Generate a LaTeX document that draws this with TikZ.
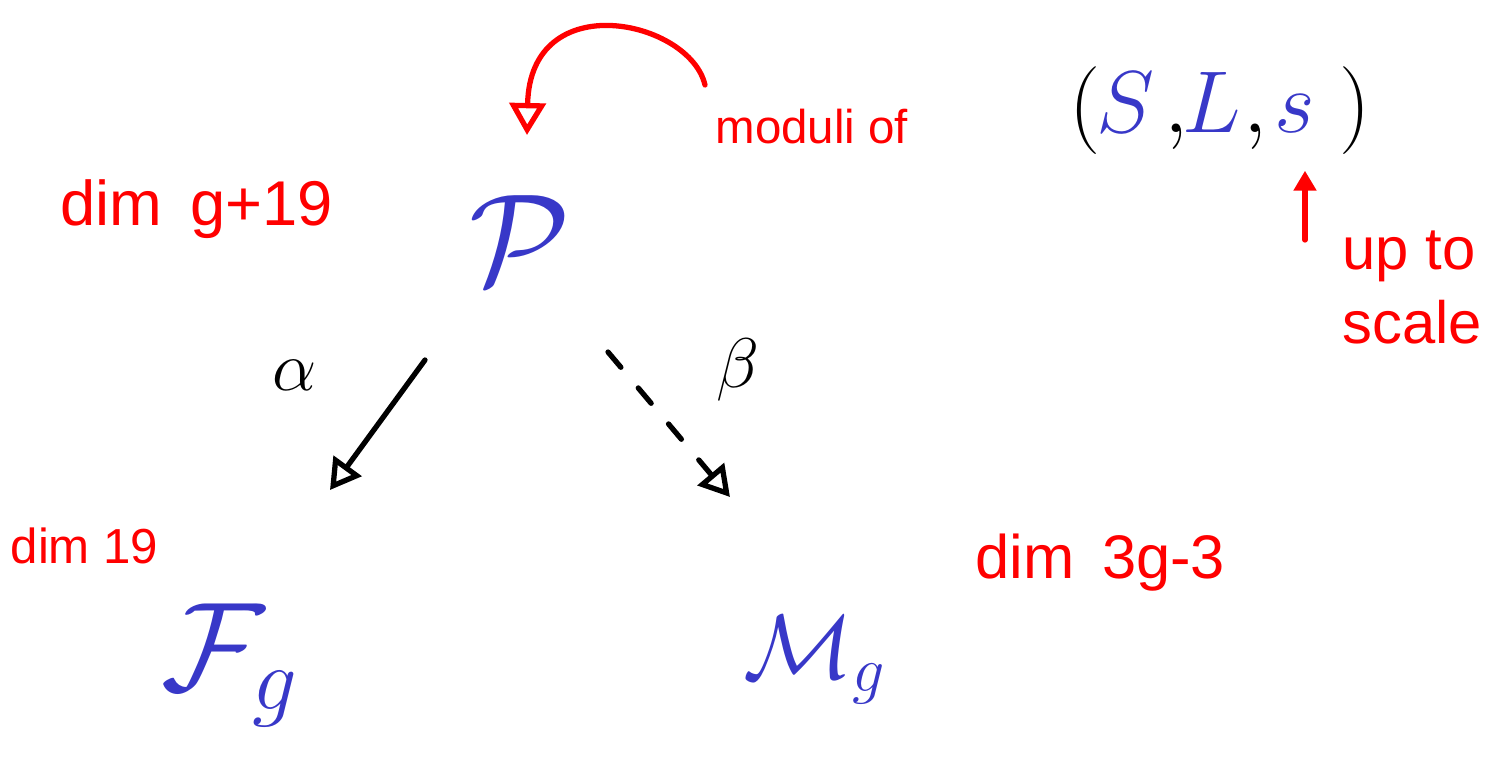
\RequirePackage{fix-cm}
\documentclass[tikz,border=0pt]{standalone}
\usepackage{amsmath}
\usepackage{fontspec}
\setsansfont{Liberation Sans}
\usepackage{tikz}
\usetikzlibrary{arrows.meta}

\begin{document}
\begin{tikzpicture}[line cap=round, line join=round,
  ink/.style={line width=1.5pt},
  note/.style={text=red, font=\sffamily\fontsize{18}{21}\selectfont, anchor=base west, inner sep=0pt},
  tup/.style={font=\fontsize{25}{28}\selectfont, anchor=base, inner sep=0pt}]

\definecolor{inkblue}{HTML}{3838C8}

\useasboundingbox (0,0) rectangle (14.97,-7.59);

% spaces
\node[inkblue, font=\fontsize{37}{41}\selectfont] (P) at (5.2,-2.4) {$\mathcal{P}$};
\node[inkblue, font=\fontsize{36}{40}\selectfont] (F) at (2.3,-6.65) {$\mathcal{F}_g$};
\node[inkblue, font=\fontsize{26}{30}\selectfont] (M) at (8.15,-6.6) {$\mathcal{M}_g$};

% the triple
\node[note, font=\sffamily\fontsize{13.5}{16}\selectfont] (mod) at (7.15,-1.43) {moduli of};
\node[tup] (lp) at (10.85,-1.32) {$($};
\node[tup, inkblue] (S) at (11.26,-1.32) {$S$};
\node[tup] (c1) at (11.76,-1.32) {$,$};
\node[tup, inkblue] (L) at (12.12,-1.32) {$L$};
\node[tup] (c2) at (12.55,-1.32) {$,$};
\node[tup, inkblue] (s) at (12.95,-1.32) {$s$};
\node[tup] (rp) at (13.55,-1.32) {$)$};

% dimensions
\node[note] (dimP) at (0.6,-2.25) {dim\, g+19};
\node[note, font=\sffamily\fontsize{14}{16}\selectfont] (dimF) at (0.1,-5.63) {dim 19};
\node[note, font=\sffamily\fontsize{17.5}{21}\selectfont] (dimM) at (9.75,-5.78) {dim\, 3g-3};
\node[note, anchor=north west, align=left, font=\sffamily\fontsize{17}{21}\selectfont] (scl) at (13.42,-2.3) {up to\\scale};
\coordinate (upfoot) at (13.05,-2.4);

% maps
\node[font=\fontsize{20}{22}\selectfont] (al) at (2.95,-3.75) {$\alpha$};
\node[font=\fontsize{20}{22}\selectfont] (be) at (7.38,-3.7) {$\beta$};

\draw[ink, -{Triangle[open, length=0.3cm, width=0.34cm]}]
  ([shift={(-0.95,-1.2)}]P.center) -- ([shift={(1.0,1.75)}]F.center);
\draw[ink, dash pattern=on 0.2cm off 0.27cm, -{Triangle[open, length=0.3cm, width=0.34cm]}]
  ([shift={(0.88,-1.12)}]P.center) -- ([shift={(-0.85,1.63)}]M.center);

\draw[ink, red, -{Triangle[open, length=0.32cm, width=0.36cm]}]
  ([shift={(-0.1,0.58)}]mod.base west) .. controls (6.9,-0.2) and (5.3,0.15) .. ([shift={(0.07,1.05)}]P.center);
\draw[ink, red, -{Triangle[length=0.2cm, width=0.22cm]}]
  (upfoot) -- ([shift={(0.1,-0.38)}]s.south);

\end{tikzpicture}
\end{document}
